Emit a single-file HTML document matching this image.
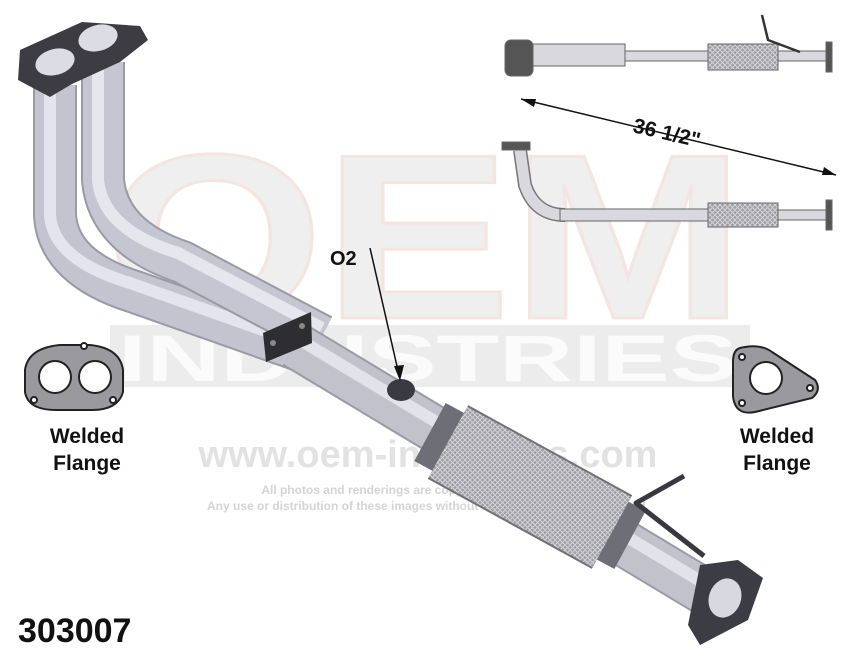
<!DOCTYPE html>
<html><head><meta charset="utf-8"><style>
html,body{margin:0;padding:0;background:#fff;}
svg{display:block;font-family:"Liberation Sans",sans-serif;}
</style></head><body>
<svg width="850" height="657" viewBox="0 0 850 657" xmlns="http://www.w3.org/2000/svg">
<defs>
<pattern id="mesh" width="5" height="5" patternUnits="userSpaceOnUse">
<rect width="5" height="5" fill="#9c9ca2"/>
<path d="M0,0 L5,5 M5,0 L0,5" stroke="#d4d4d8" stroke-width="1"/>
</pattern>
</defs>
<!-- watermark -->
<text x="105" y="318" font-size="235" font-weight="bold" fill="#efefef" stroke="#f3e6e2" stroke-width="3" textLength="640" lengthAdjust="spacingAndGlyphs">OEM</text>
<rect x="110" y="325" width="640" height="62" fill="#ececec"/>
<text x="118" y="381" font-size="66" font-weight="bold" fill="#fbfbfb" textLength="620" lengthAdjust="spacingAndGlyphs">INDUSTRIES</text>
<text x="428" y="467" font-size="38" font-weight="bold" fill="#e2e2e2" text-anchor="middle">www.oem-industries.com</text>
<text x="430" y="494" font-size="12" font-weight="bold" fill="#d4d4d4" text-anchor="middle">All photos and renderings are copyright of OEM Industries.</text>
<text x="428" y="510" font-size="12" font-weight="bold" fill="#d4d4d4" text-anchor="middle">Any use or distribution of these images without written consent is prohibited.</text>

<!-- main pipe tubes -->
<g fill="none" stroke-linecap="butt" stroke-linejoin="round">
<path d="M55,85 L55,215 Q58,268 135,292 L305,352" stroke="#9a9aa6" stroke-width="44"/>
<path d="M55,85 L55,215 Q58,268 135,292 L305,352" stroke="#c4c4d0" stroke-width="40"/>
<path d="M50,85 L50,215 Q53,260 130,283 L305,345" stroke="#e4e4ee" stroke-width="12"/>
<path d="M103,62 L103,180 Q108,237 182,262 L322,336" stroke="#9a9aa6" stroke-width="44"/>
<path d="M103,62 L103,180 Q108,237 182,262 L322,336" stroke="#c6c6d2" stroke-width="40"/>
<path d="M98,62 L98,180 Q103,230 178,253 L322,328" stroke="#e6e6ee" stroke-width="12"/>
<path d="M295,345 L730,607" stroke="#9a9aa6" stroke-width="48"/>
<path d="M295,345 L730,607" stroke="#c2c2cc" stroke-width="44"/>
<path d="M295,337 L730,599" stroke="#e2e2ea" stroke-width="12"/>
<path d="M430,432 L630,540" stroke="#6e6e76" stroke-width="66"/>
<path d="M448,442 L612,532" stroke="#707076" stroke-width="84"/>
<path d="M448,442 L612,532" stroke="url(#mesh)" stroke-width="80"/>
</g>
<!-- top flange -->
<polygon points="20,50 82,22 140,26 148,40 120,62 72,84 50,97 18,80" fill="#3c3c42"/>
<ellipse cx="55" cy="62" rx="20" ry="13" transform="rotate(-15 55 62)" fill="#dcdce4"/>
<ellipse cx="98" cy="38" rx="20" ry="13" transform="rotate(-15 98 38)" fill="#dcdce4"/>
<!-- bracket -->
<polygon points="263,333 311,312 312,343 266,362" fill="#2e2e32"/>
<circle cx="273" cy="343" r="3" fill="#888"/><circle cx="302" cy="326" r="3" fill="#888"/>
<!-- O2 -->
<ellipse cx="401" cy="390" rx="14" ry="11" fill="#3a3a42"/>
<text x="330" y="265" font-size="20" font-weight="bold" fill="#111">O2</text>
<line x1="370" y1="248" x2="399" y2="375" stroke="#111" stroke-width="1.5"/>
<polygon points="400,381 394,366 404,365" fill="#111"/>
<!-- hanger -->
<path d="M684,476 L636,503 L704,556" fill="none" stroke="#38383e" stroke-width="5" stroke-linejoin="round"/>
<!-- bottom flange -->
<polygon points="700,565 738,560 763,578 748,620 700,645 688,625" fill="#3c3c44"/>
<ellipse cx="725" cy="598" rx="16" ry="20" transform="rotate(20 725 598)" fill="#d8d8e0"/>
<!-- gaskets -->
<g stroke="#222" stroke-width="2" fill="#9a9a9e">
<path d="M25,370 Q28,348 60,345 L90,345 Q120,348 123,370 L123,392 Q118,410 92,410 L56,410 Q28,410 25,392 Z"/>
<circle cx="55" cy="377" r="16" fill="#fff"/><circle cx="95" cy="377" r="16" fill="#fff"/>
<circle cx="34" cy="400" r="3" fill="#fff"/><circle cx="113" cy="400" r="3" fill="#fff"/><circle cx="84" cy="346" r="3" fill="#fff"/>
<path d="M740,348 Q760,343 772,352 L815,380 Q822,390 812,398 L755,412 Q735,416 733,396 L733,362 Q733,350 740,348 Z"/>
<circle cx="766" cy="378" r="16" fill="#fff"/>
<circle cx="742" cy="357" r="3" fill="#fff"/><circle cx="810" cy="388" r="3" fill="#fff"/><circle cx="742" cy="403" r="3" fill="#fff"/>
</g>
<g font-size="21" font-weight="bold" fill="#111" text-anchor="middle">
<text x="87" y="443">Welded</text><text x="87" y="470">Flange</text>
<text x="777" y="443">Welded</text><text x="777" y="470">Flange</text>
</g>
<text x="18" y="642" font-size="34" font-weight="bold" fill="#111">303007</text>
<!-- small top-right views -->
<g stroke="#666" stroke-width="1">
<rect x="530" y="44" width="95" height="22" fill="#d8d8de"/>
<rect x="625" y="51" width="85" height="10" fill="#d8d8de"/>
<rect x="708" y="44" width="70" height="26" fill="url(#mesh)"/>
<rect x="778" y="51" width="50" height="10" fill="#d8d8de"/>
<rect x="826" y="42" width="6" height="30" fill="#555"/>
<rect x="505" y="40" width="28" height="36" rx="6" fill="#555"/>
<path d="M520,150 L525,185 Q535,215 565,215" fill="none" stroke="#777" stroke-width="14"/>
<path d="M520,150 L525,185 Q535,215 565,215" fill="none" stroke="#d8d8de" stroke-width="11"/>
<rect x="560" y="209" width="150" height="12" fill="#d8d8de"/>
<rect x="708" y="203" width="70" height="24" fill="url(#mesh)"/>
<rect x="778" y="210" width="50" height="10" fill="#d8d8de"/>
<rect x="826" y="200" width="6" height="30" fill="#555"/>
<rect x="502" y="142" width="28" height="8" fill="#555"/>
</g>
<path d="M762,15 L768,40 L800,52" fill="none" stroke="#333" stroke-width="2.5"/>
<line x1="521" y1="99" x2="836" y2="175" stroke="#111" stroke-width="1.5"/>
<polygon points="521,99 536,99 534,107" fill="#111"/>
<polygon points="836,175 822,175 824,167" fill="#111"/>
<text x="632" y="132" font-size="21" font-weight="bold" fill="#111" transform="rotate(13 632 132)">36 1/2"</text>
</svg>
</body></html>
